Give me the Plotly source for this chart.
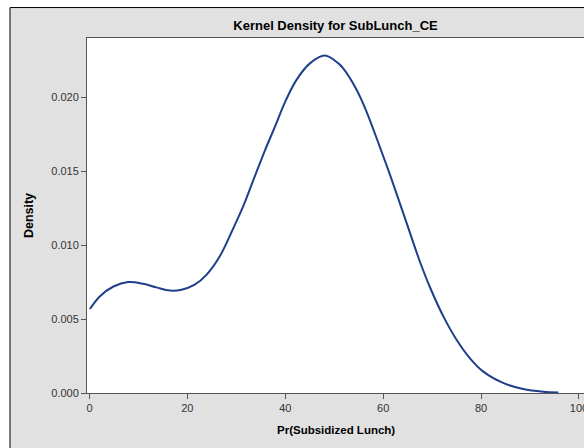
import plotly.graph_objects as go

# Kernel density curve values
x_vals = [0.1, 2.1, 4.9, 7.9, 11.0, 13.7, 16.4, 18.8, 21.5, 23.9, 26.6, 29.4, 31.4,
          33.5, 35.9, 37.9, 40.0, 42.3, 45.1, 48.1, 50.8, 51.8, 54.6, 56.6, 59.3,
          61.4, 63.4, 65.5, 67.5, 69.5, 72.3, 75.0, 77.7, 80.4, 84.5, 88.6, 92.7, 95.8]
density = [0.00568, 0.00653, 0.00720, 0.00750, 0.00738, 0.00714, 0.00693, 0.00698,
           0.00732, 0.00799, 0.00923, 0.01115, 0.01261, 0.01441, 0.01644, 0.01801,
           0.01970, 0.02117, 0.02230, 0.02281, 0.02230, 0.02196, 0.02049, 0.01903,
           0.01666, 0.01475, 0.01284, 0.01081, 0.00889, 0.00720, 0.00518, 0.00360,
           0.00236, 0.00146, 0.00068, 0.00027, 0.00009, 0.00004]

x_ticks = [0, 20, 40, 60, 80, 100]
y_ticks = [0.000, 0.005, 0.010, 0.015, 0.020]

title_text = "Kernel Density for SubLunch_CE"
x_title = "Pr(Subsidized Lunch)"
y_title = "Density"

fig = go.Figure()
fig.add_trace(go.Scatter(
    x=x_vals, y=density, mode="lines",
    line=dict(color="#1F3F8A", width=2, shape="spline", smoothing=1.0),
    hoverinfo="skip", showlegend=False,
))

font_family = "Liberation Sans, Arial, sans-serif"
plot_w = 600 - 87
center_x = (335.5 - 87) / plot_w

fig.update_layout(
    width=600, height=460,
    margin=dict(l=87, r=0, t=38, b=460 - 393.5),
    paper_bgcolor="white",
    plot_bgcolor="rgba(0,0,0,0)",
    font=dict(family=font_family, size=11, color="#333333"),
    title=dict(text="<b>" + title_text + "</b>", x=center_x, xref="paper",
               xanchor="center", y=1 - 25.5 / 460, yanchor="middle",
               font=dict(size=13, color="black", family=font_family)),
    shapes=[
        dict(type="rect", xref="paper", yref="paper",
             x0=-77 / plot_w, x1=1.2, y0=-0.4, y1=(393.5 - 7.5) / 355.5,
             fillcolor="#E1E1E1", line=dict(color="black", width=1), layer="below"),
        dict(type="rect", xref="paper", yref="paper",
             x0=0, x1=1, y0=0, y1=1,
             fillcolor="white", line=dict(width=0), layer="below"),
    ],
    annotations=[
        dict(text="<b>" + x_title + "</b>", xref="paper", yref="paper",
             x=center_x, y=(393.5 - 431) / 355.5, xanchor="center", yanchor="middle",
             showarrow=False, font=dict(size=11.5, color="black")),
    ],
    xaxis=dict(
        range=[-0.5, -0.5 + plot_w / 4.895], tickvals=x_ticks,
        ticktext=[str(v) for v in x_ticks],
        showgrid=False, zeroline=False, showline=True, linecolor="#555555",
        linewidth=1, mirror=True, ticks="outside", ticklen=5, tickcolor="#555555",
        tickfont=dict(size=11, color="#333333"), ticklabeloverflow="allow",
    ),
    yaxis=dict(
        range=[0, 0.024], tickvals=y_ticks, ticktext=["%.3f" % v for v in y_ticks],
        showgrid=False, zeroline=False, showline=True, linecolor="#555555",
        linewidth=1, mirror=False, ticks="outside", ticklen=5, tickcolor="#555555",
        tickfont=dict(size=11, color="#333333"),
        title=dict(text="<b>" + y_title + "</b>", standoff=14,
                   font=dict(size=12.5, color="black")),
    ),
)

fig.write_html(
    "out.html",
    config={"displayModeBar": False},
    post_script="document.body.style.margin='0';document.body.style.overflow='hidden';",
)
